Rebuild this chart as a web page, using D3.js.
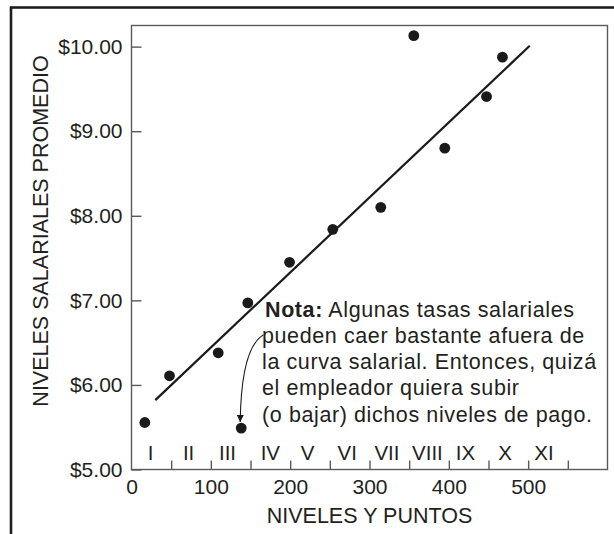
<!DOCTYPE html>
<html><head><meta charset="utf-8">
<script src="https://cdn.jsdelivr.net/npm/d3@7"></script>
<style>
body{margin:0;background:#fff}
svg{display:block}
text{font-family:"Liberation Sans",Arial,Helvetica,sans-serif;fill:#231f20}
</style></head>
<body><svg id="chart" width="614" height="534"></svg>
<script>
// ---- data ----
const pointsX = [16.8, 47.9, 109.3, 138.3, 146.6, 199.2, 253.7, 314.2, 355.8, 394.9, 447.5, 467.6];
const pointsY = [5.556, 6.108, 6.38, 5.49, 6.97, 7.45, 7.84, 8.10, 10.13, 8.80, 9.41, 9.876];
const curveX = [30, 502];
const curveY = [5.82, 10.01];
const yTicks = [5, 6, 7, 8, 9, 10];
const xTickLabels = [0, 100, 200, 300, 400, 500];
const xMinorTicks = [50, 100, 150, 200, 250, 300, 350, 400, 450, 500, 550];
const romanLabels = ["I","II","III","IV","V","VI","VII","VIII","IX","X","XI"];
const romanPos = [24, 72, 121, 175, 222, 272, 322, 373, 421, 471, 520];
const outlierIndex = 3;
const noteLines = [
  [{t:"Nota:", b:true}, {t:" Algunas tasas salariales", b:false}],
  [{t:"pueden caer bastante afuera de", b:false}],
  [{t:"la curva salarial. Entonces, quizá", b:false}],
  [{t:"el empleador quiera subir", b:false}],
  [{t:"(o bajar) dichos niveles de pago.", b:false}]
];
const xTitle = "NIVELES Y PUNTOS";
const yTitle = "NIVELES SALARIALES PROMEDIO";

// ---- layout ----
const svg = d3.select("#chart");
const x = d3.scaleLinear().domain([0, 600]).range([131.5, 607.5]);
const y = d3.scaleLinear().domain([5, 10.25]).range([469.5, 25.5]);
const frameCol = "#5a5a5a";

// outer border
svg.append("rect").attr("x", 11).attr("y", 7.5).attr("width", 800).attr("height", 800)
  .attr("fill", "none").attr("stroke", "#1e1e1e").attr("stroke-width", 2.6);

// plot frame
svg.append("rect")
  .attr("x", x(0)).attr("y", y(10.25))
  .attr("width", x(600) - x(0)).attr("height", y(5) - y(10.25))
  .attr("fill", "none").attr("stroke", frameCol).attr("stroke-width", 1.4);

// y axis
const gy = svg.append("g").attr("transform", `translate(${x(0)},0)`)
  .call(d3.axisLeft(y).tickValues(yTicks).tickSize(-10).tickPadding(9)
    .tickFormat(d => "$" + d.toFixed(2)));
gy.select(".domain").remove();
gy.selectAll("line").attr("stroke", frameCol).attr("stroke-width", 1.4);
gy.selectAll("text").attr("font-size", 21).attr("font-family", null).style("fill", "#231f20");

// x axis labels
const gx = svg.append("g").attr("transform", `translate(0,${y(5)})`)
  .call(d3.axisBottom(x).tickValues(xTickLabels).tickSize(0).tickPadding(10).tickFormat(d3.format("d")));
gx.select(".domain").remove();
gx.selectAll("text").attr("font-size", 21).attr("font-family", null).style("fill", "#231f20");

// x minor ticks (inside)
const gx2 = svg.append("g").attr("transform", `translate(0,${y(5)})`)
  .call(d3.axisBottom(x).tickValues(xMinorTicks).tickSize(-9).tickFormat(""));
gx2.select(".domain").remove();
gx2.selectAll("line").attr("stroke", frameCol).attr("stroke-width", 1.4);

// roman class labels
svg.append("g").selectAll("text").data(romanLabels).join("text")
  .attr("x", (d, i) => x(romanPos[i])).attr("y", y(5) - 10)
  .attr("text-anchor", "middle").attr("font-size", 20.5).text(d => d);

// salary line
const line = d3.line().x(d => x(d[0])).y(d => y(d[1]));
svg.append("path").datum(curveX.map((v, i) => [v, curveY[i]]))
  .attr("d", line).attr("fill", "none").attr("stroke", "#1a1a1a").attr("stroke-width", 2.2);

// points
svg.append("g").selectAll("circle").data(pointsX.map((v, i) => [v, pointsY[i]])).join("circle")
  .attr("cx", d => x(d[0])).attr("cy", d => y(d[1])).attr("r", 5.4).attr("fill", "#1a1a1a");

// note text
const note = svg.append("text").attr("font-size", 21.5).attr("letter-spacing", 0.6);
noteLines.forEach((ln, i) => {
  ln.forEach((seg, j) => {
    const ts = note.append("tspan").text(seg.t).attr("font-weight", seg.b ? "bold" : null);
    if (j === 0) ts.attr("x", i === 0 ? 265 : 262).attr("y", 316.5 + i * 26.3);
  });
});

// arrow
const defs = svg.append("defs");
defs.append("marker").attr("id", "ah").attr("viewBox", "0 0 10 10").attr("refX", 10).attr("refY", 5)
  .attr("markerWidth", 9).attr("markerHeight", 7).attr("markerUnits", "userSpaceOnUse").attr("orient", "auto")
  .append("path").attr("d", "M0,0 L10,5 L0,10 Z").attr("fill", "#1a1a1a");
const ox = x(pointsX[outlierIndex]) - 1, oy = y(pointsY[outlierIndex]) - 6;
svg.append("path")
  .attr("d", `M${ox + 23},${oy - 87} Q${ox + 1},${oy - 74} ${ox},${oy}`)
  .attr("fill", "none").attr("stroke", "#1a1a1a").attr("stroke-width", 1.1).attr("marker-end", "url(#ah)");

// axis titles
svg.append("text").attr("x", (x(0) + x(600)) / 2).attr("y", 522.5).attr("text-anchor", "middle")
  .attr("font-size", 21.5).text(xTitle);
svg.append("text").attr("transform", "translate(48,231) rotate(-90)").attr("text-anchor", "middle")
  .attr("font-size", 21.5).text(yTitle);
</script></body></html>
